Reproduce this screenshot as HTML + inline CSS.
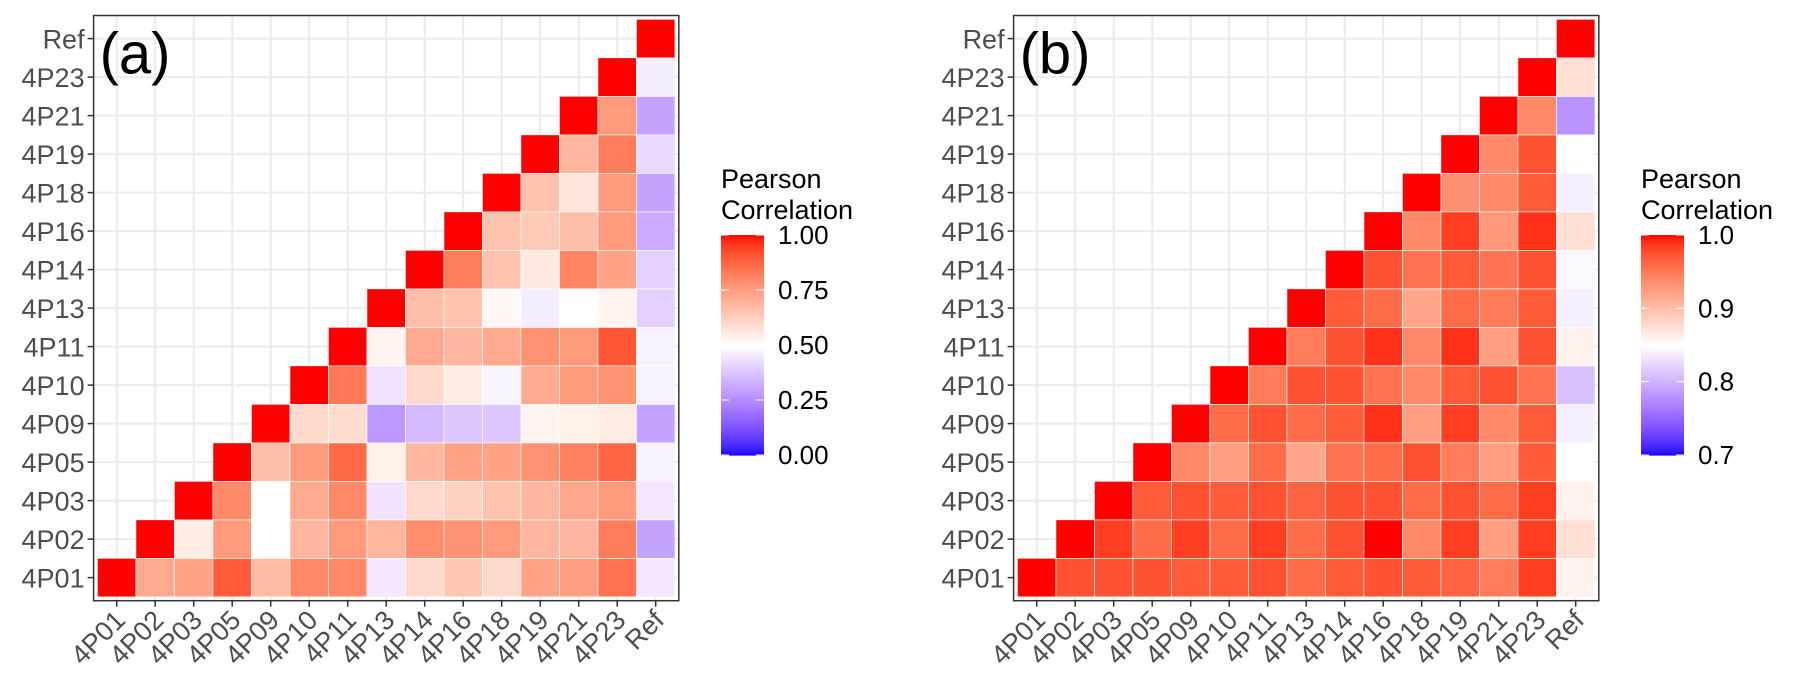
<!DOCTYPE html>
<html><head><meta charset="utf-8"><style>
html,body{margin:0;padding:0;background:#fff;}
svg{display:block;font-family:"Liberation Sans",Arial,sans-serif;}
</style></head><body>
<svg id="chart" width="1794" height="688" viewBox="0 0 1794 688" xmlns="http://www.w3.org/2000/svg"></svg>
<script>
const categories = ["4P01","4P02","4P03","4P05","4P09","4P10","4P11","4P13","4P14","4P16","4P18","4P19","4P21","4P23","Ref"];
// panel (a): row i values for columns i+1..14
const valuesA = [
 [0.72,0.74,0.90,0.68,0.80,0.80,0.45,0.60,0.65,0.60,0.74,0.75,0.85,0.45],
 [0.55,0.76,0.50,0.69,0.76,0.69,0.79,0.78,0.76,0.69,0.69,0.83,0.30],
 [0.80,0.50,0.72,0.80,0.44,0.60,0.62,0.66,0.69,0.73,0.76,0.45],
 [0.67,0.76,0.87,0.54,0.69,0.74,0.74,0.78,0.82,0.88,0.47],
 [0.60,0.59,0.28,0.35,0.38,0.38,0.53,0.54,0.55,0.30],
 [0.84,0.44,0.60,0.55,0.48,0.72,0.76,0.78,0.47],
 [0.53,0.72,0.69,0.72,0.78,0.76,0.91,0.47],
 [0.67,0.66,0.52,0.46,0.50,0.53,0.40],
 [0.83,0.66,0.56,0.81,0.74,0.40],
 [0.66,0.64,0.67,0.76,0.32],
 [0.66,0.57,0.76,0.30],
 [0.69,0.83,0.42],
 [0.76,0.30],
 [0.46],
 []
];
const valuesB = [
 [0.975,0.975,0.975,0.97,0.97,0.975,0.96,0.97,0.975,0.97,0.965,0.95,0.985,0.86],
 [0.985,0.96,0.985,0.96,0.985,0.96,0.975,1.0,0.94,0.985,0.925,0.985,0.875],
 [0.97,0.975,0.97,0.975,0.965,0.975,0.975,0.96,0.975,0.96,0.985,0.86],
 [0.94,0.925,0.96,0.92,0.955,0.96,0.975,0.95,0.925,0.97,0.85],
 [0.96,0.975,0.96,0.97,0.99,0.925,0.985,0.94,0.97,0.84],
 [0.95,0.975,0.975,0.955,0.94,0.97,0.975,0.955,0.81],
 [0.95,0.975,0.99,0.94,0.99,0.925,0.975,0.86],
 [0.97,0.96,0.92,0.96,0.95,0.97,0.84],
 [0.975,0.955,0.97,0.955,0.975,0.845],
 [0.94,0.985,0.93,0.99,0.875],
 [0.935,0.94,0.97,0.84],
 [0.94,0.975,0.85],
 [0.94,0.78],
 [0.875],
 []
];
const ticksA = [0,0.25,0.5,0.75,1.0];
const tickLabelsA = ["0.00","0.25","0.50","0.75","1.00"];
const ticksB = [0.7,0.8,0.9,1.0];
const tickLabelsB = ["0.7","0.8","0.9","1.0"];

const NS="http://www.w3.org/2000/svg";
const svg=document.getElementById('chart');
function mk(tag,attrs,parent){const e=document.createElementNS(NS,tag);for(const k in attrs)e.setAttribute(k,attrs[k]);(parent||svg).appendChild(e);return e;}

function hex2rgb(h){return [parseInt(h.substr(1,2),16),parseInt(h.substr(3,2),16),parseInt(h.substr(5,2),16)];}
function lin(c){c/=255;return c<=0.04045?c/12.92:Math.pow((c+0.055)/1.055,2.4);}
function unlin(c){c=c<=0.0031308?12.92*c:1.055*Math.pow(c,1/2.4)-0.055;return Math.max(0,Math.min(255,Math.round(c*255)));}
function rgb2lab(rgb){const [r,g,b]=rgb.map(lin);let X=(0.4124*r+0.3576*g+0.1805*b)/0.95047,Y=0.2126*r+0.7152*g+0.0722*b,Z=(0.0193*r+0.1192*g+0.9505*b)/1.08883;
 const f=t=>t>0.008856?Math.cbrt(t):7.787*t+16/116;const fx=f(X),fy=f(Y),fz=f(Z);return [116*fy-16,500*(fx-fy),200*(fy-fz)];}
function lab2rgb(l){const fy=(l[0]+16)/116,fx=fy+l[1]/500,fz=fy-l[2]/200;const fi=t=>t*t*t>0.008856?t*t*t:(t-16/116)/7.787;
 const X=fi(fx)*0.95047,Y=fi(fy),Z=fi(fz)*1.08883;
 const r=3.2406*X-1.5372*Y-0.4986*Z,g=-0.9689*X+1.8758*Y+0.0415*Z,b=0.0557*X-0.2040*Y+1.0570*Z;
 return 'rgb('+unlin(r)+','+unlin(g)+','+unlin(b)+')';}
const LB=rgb2lab(hex2rgb('#0000ff')),LW=rgb2lab(hex2rgb('#ffffff')),LR=rgb2lab(hex2rgb('#ff0000'));
function colour(v,lo,mid,hi){let a,b,t;if(v>=mid){a=LW;b=LR;t=(v-mid)/(hi-mid);}else{a=LW;b=LB;t=(mid-v)/(mid-lo);}
 t=Math.max(0,Math.min(1,t));return lab2rgb([a[0]+(b[0]-a[0])*t,a[1]+(b[1]-a[1])*t,a[2]+(b[2]-a[2])*t]);}

const STEP=38.5, N=categories.length;
function drawPanel(ox,values,lo,mid,hi,label,ticks,tickLabels,legX,pname){
 const g=mk('g',{});
 const left=ox, top=15.5, w=STEP*(N-1)+STEP*1.2, h=w;
 const xS=i=>left+STEP*0.6+i*STEP;
 const yS=i=>top+STEP*0.6+(N-1-i)*STEP;
 const grid=mk('g',{},g);
 for(let i=0;i<N;i++){
  const l1=mk('line',{x1:xS(i),x2:xS(i),y1:top,y2:top+h,stroke:'#ebebeb','stroke-width':2},grid);
  
  const l2=mk('line',{x1:left,x2:left+w,y1:yS(i),y2:yS(i),stroke:'#ebebeb','stroke-width':2},grid);
  
 }
 const cells=mk('g',{},g);
 for(let r=0;r<N;r++){
  const d=mk('rect',{x:xS(r)-STEP/2,y:yS(r)-STEP/2,width:STEP,height:STEP,fill:colour(1,lo,mid,hi),stroke:'#fff','stroke-width':0.6},cells);
  
  values[r].forEach((v,k)=>{const c=r+1+k;
   const e=mk('rect',{x:xS(c)-STEP/2,y:yS(r)-STEP/2,width:STEP,height:STEP,fill:colour(v,lo,mid,hi),stroke:'#fff','stroke-width':0.6},cells);
   });
 }
 mk('rect',{x:left,y:top,width:w,height:h,fill:'none',stroke:'#333','stroke-width':1.5,},g);
 for(let i=0;i<N;i++){
  const t1=mk('line',{x1:xS(i),x2:xS(i),y1:top+h,y2:top+h+6,stroke:'#333','stroke-width':1.5},g);
  
  const tx=mk('text',{x:0,y:0,'font-size':27,fill:'#4d4d4d','text-anchor':'end',transform:'translate('+(xS(i)+10)+','+(top+h+21)+') rotate(-45)'},g);
  tx.textContent=categories[i];
  const t2=mk('line',{x1:left-6,x2:left,y1:yS(i),y2:yS(i),stroke:'#333','stroke-width':1.5},g);
  
  const ty=mk('text',{x:left-9,y:yS(i)+10,'font-size':27,fill:'#4d4d4d','text-anchor':'end'},g);
  ty.textContent=categories[i];
 }
 const pl=mk('text',{x:left+6,y:top+58,'font-size':58,fill:'#000'},g);
 pl.textContent=label;
 const lg=mk('g',{},g);
 const t1=mk('text',{x:legX,y:188,'font-size':27,fill:'#000'},lg);t1.textContent='Pearson';
 const t2=mk('text',{x:legX,y:219,'font-size':27,fill:'#000'},lg);t2.textContent='Correlation';
 const bTop=235,bBot=455,bW=43;
 const yL=v=>bBot-(v-lo)/(hi-lo)*(bBot-bTop);
 const nSeg=110;
 for(let s=0;s<nSeg;s++){const v0=lo+(hi-lo)*s/nSeg,v1=lo+(hi-lo)*(s+1)/nSeg;
  mk('rect',{x:legX,y:yL(v1),width:bW,height:yL(v0)-yL(v1)+0.6,fill:colour((v0+v1)/2,lo,mid,hi)},lg);}
 ticks.forEach((tv,i)=>{
  mk('line',{x1:legX,x2:legX+8,y1:yL(tv),y2:yL(tv),stroke:'#fff','stroke-width':1},lg);
  mk('line',{x1:legX+bW-8,x2:legX+bW,y1:yL(tv),y2:yL(tv),stroke:'#fff','stroke-width':1},lg);
  const tl=mk('text',{x:legX+bW+14,y:yL(tv)+9,'font-size':26,fill:'#000'},lg);
  tl.textContent=tickLabels[i];
 });
}
drawPanel(93.6,valuesA,0,0.5,1,'(a)',ticksA,tickLabelsA,721,'a');
drawPanel(1013.6,valuesB,0.7,0.85,1,'(b)',ticksB,tickLabelsB,1641,'b');
</script>
</body></html>
